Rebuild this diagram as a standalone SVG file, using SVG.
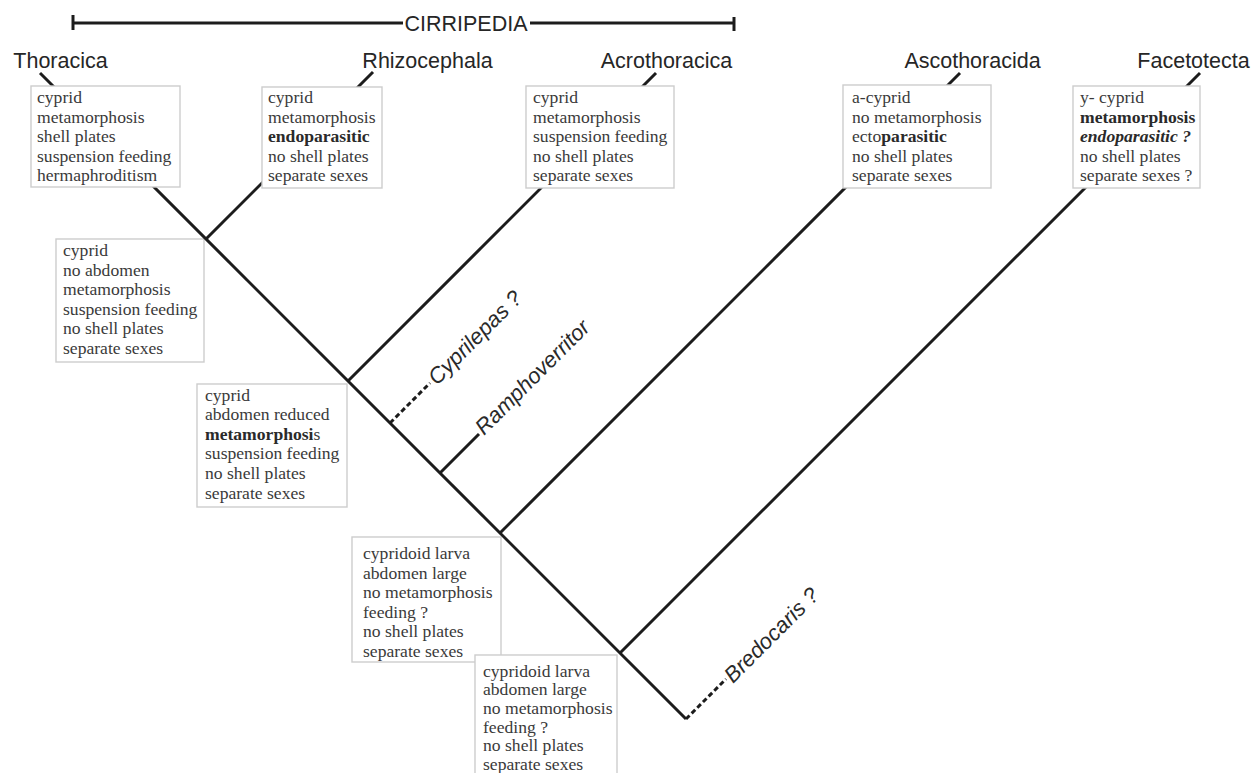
<svg xmlns="http://www.w3.org/2000/svg" width="1258" height="773" viewBox="0 0 1258 773">
<style>
.bg{fill:#ffffff}
.box{fill:#ffffff;stroke:#cdcdcd;stroke-width:1.4}
.bt{font-family:"Liberation Serif","Times New Roman",serif;font-size:17.6px;fill:#3a3a3a}
.b{font-weight:bold;fill:#2a2a2a}
.lbl{font-family:"Liberation Sans",Arial,sans-serif;font-size:21.5px;fill:#262626;text-anchor:middle}
.rl{font-family:"Liberation Sans",Arial,sans-serif;font-size:22px;fill:#2a2a2a;font-style:italic}
.ln{stroke:#1c1c1c;stroke-width:3;fill:none;stroke-linecap:butt}
.dash{stroke:#1c1c1c;stroke-width:3;fill:none;stroke-dasharray:5 3}
</style>
<rect class="bg" x="0" y="0" width="1258" height="773"/>

<g id="header">
  <line class="ln" x1="73" y1="23" x2="403" y2="23" stroke-width="2.5"/>
  <line class="ln" x1="530" y1="23" x2="734" y2="23" stroke-width="2.5"/>
  <line class="ln" x1="73" y1="15" x2="73" y2="30" stroke-width="2.5"/>
  <line class="ln" x1="734" y1="17" x2="734" y2="31" stroke-width="2.5"/>
  <text class="lbl" x="466" y="30.5">CIRRIPEDIA</text>
</g>

<!-- lower node boxes (behind connectors) -->
<g id="node-ancestor-cirripedia">
  <rect class="box" x="56" y="239" width="148" height="123"/>
  <text class="bt"><tspan x="63" y="256">cyprid</tspan><tspan x="63" dy="19.6">no abdomen</tspan><tspan x="63" dy="19.6">metamorphosis</tspan><tspan x="63" dy="19.6">suspension feeding</tspan><tspan x="63" dy="19.6">no shell plates</tspan><tspan x="63" dy="19.6">separate sexes</tspan></text>
</g>
<g id="node-ancestor-acro">
  <rect class="box" x="197" y="384" width="150" height="123"/>
  <text class="bt"><tspan x="205" y="400.5">cyprid</tspan><tspan x="205" dy="19.6">abdomen reduced</tspan><tspan x="205" dy="19.6"><tspan class="b">metamorphosi</tspan>s</tspan><tspan x="205" dy="19.6">suspension feeding</tspan><tspan x="205" dy="19.6">no shell plates</tspan><tspan x="205" dy="19.6">separate sexes</tspan></text>
</g>
<g id="node-ancestor-thecostraca">
  <rect class="box" x="352" y="537" width="149" height="125"/>
  <text class="bt"><tspan x="363" y="559">cypridoid larva</tspan><tspan x="363" dy="19.6">abdomen large</tspan><tspan x="363" dy="19.6">no metamorphosis</tspan><tspan x="363" dy="19.6">feeding ?</tspan><tspan x="363" dy="19.6">no shell plates</tspan><tspan x="363" dy="19.6">separate sexes</tspan></text>
</g>
<g id="node-ancestor-root">
  <rect class="box" x="475" y="655" width="142" height="140"/>
  <text class="bt"><tspan x="483" y="676.5">cypridoid larva</tspan><tspan x="483" dy="18.7">abdomen large</tspan><tspan x="483" dy="18.7">no metamorphosis</tspan><tspan x="483" dy="18.7">feeding ?</tspan><tspan x="483" dy="18.7">no shell plates</tspan><tspan x="483" dy="18.7">separate sexes</tspan></text>
</g>

<g id="connectors">
  <line class="ln" x1="40" y1="73" x2="686" y2="719"/>
  <line class="ln" x1="206" y1="239" x2="373" y2="72"/>
  <line class="ln" x1="348" y1="381" x2="656" y2="73"/>
  <line class="ln" x1="500" y1="533" x2="960" y2="73"/>
  <line class="ln" x1="620" y1="653" x2="1200" y2="73"/>
  <line class="ln" x1="440" y1="473" x2="479" y2="434"/>
  <line class="dash" x1="390" y1="423" x2="430" y2="383"/>
  <line class="dash" x1="686" y1="719" x2="726" y2="679"/>
</g>

<!-- terminal taxa boxes (over connectors) -->
<g id="node-thoracica">
  <rect class="box" x="31" y="86" width="149" height="101"/>
  <text class="bt"><tspan x="37" y="103">cyprid</tspan><tspan x="37" dy="19.5">metamorphosis</tspan><tspan x="37" dy="19.5">shell plates</tspan><tspan x="37" dy="19.5">suspension feeding</tspan><tspan x="37" dy="19.5">hermaphroditism</tspan></text>
  <text class="lbl" x="60.5" y="67.5">Thoracica</text>
</g>
<g id="node-rhizocephala">
  <rect class="box" x="262" y="87" width="120" height="101"/>
  <text class="bt"><tspan x="268" y="103">cyprid</tspan><tspan x="268" dy="19.5">metamorphosis</tspan><tspan x="268" dy="19.5" class="b">endoparasitic</tspan><tspan x="268" dy="19.5">no shell plates</tspan><tspan x="268" dy="19.5">separate sexes</tspan></text>
  <text class="lbl" x="427.5" y="67.5">Rhizocephala</text>
</g>
<g id="node-acrothoracica">
  <rect class="box" x="526" y="86" width="148" height="102"/>
  <text class="bt"><tspan x="533" y="103">cyprid</tspan><tspan x="533" dy="19.5">metamorphosis</tspan><tspan x="533" dy="19.5">suspension feeding</tspan><tspan x="533" dy="19.5">no shell plates</tspan><tspan x="533" dy="19.5">separate sexes</tspan></text>
  <text class="lbl" x="666.5" y="67.5">Acrothoracica</text>
</g>
<g id="node-ascothoracida">
  <rect class="box" x="843" y="85" width="148" height="103"/>
  <text class="bt"><tspan x="852" y="103">a-cyprid</tspan><tspan x="852" dy="19.5">no metamorphosis</tspan><tspan x="852" dy="19.5">ecto<tspan class="b">parasitic</tspan></tspan><tspan x="852" dy="19.5">no shell plates</tspan><tspan x="852" dy="19.5">separate sexes</tspan></text>
  <text class="lbl" x="972.5" y="67.5">Ascothoracida</text>
</g>
<g id="node-facetotecta">
  <rect class="box" x="1073" y="86" width="127" height="102"/>
  <text class="bt"><tspan x="1080" y="103">y- cyprid</tspan><tspan x="1080" dy="19.5" class="b">metamorphosis</tspan><tspan x="1080" dy="19.5" class="b" font-style="italic">endoparasitic ?</tspan><tspan x="1080" dy="19.5">no shell plates</tspan><tspan x="1080" dy="19.5">separate sexes ?</tspan></text>
  <text class="lbl" x="1193.5" y="67.5">Facetotecta</text>
</g>

<g id="node-cyprilepas">
  <text class="rl" transform="translate(437,386) rotate(-45)">Cyprilepas ?</text>
</g>
<g id="node-ramphoverritor">
  <text class="rl" transform="translate(484,436) rotate(-45)">Ramphoverritor</text>
</g>
<g id="node-bredocaris">
  <text class="rl" transform="translate(733,684) rotate(-45)">Bredocaris ?</text>
</g>
</svg>
